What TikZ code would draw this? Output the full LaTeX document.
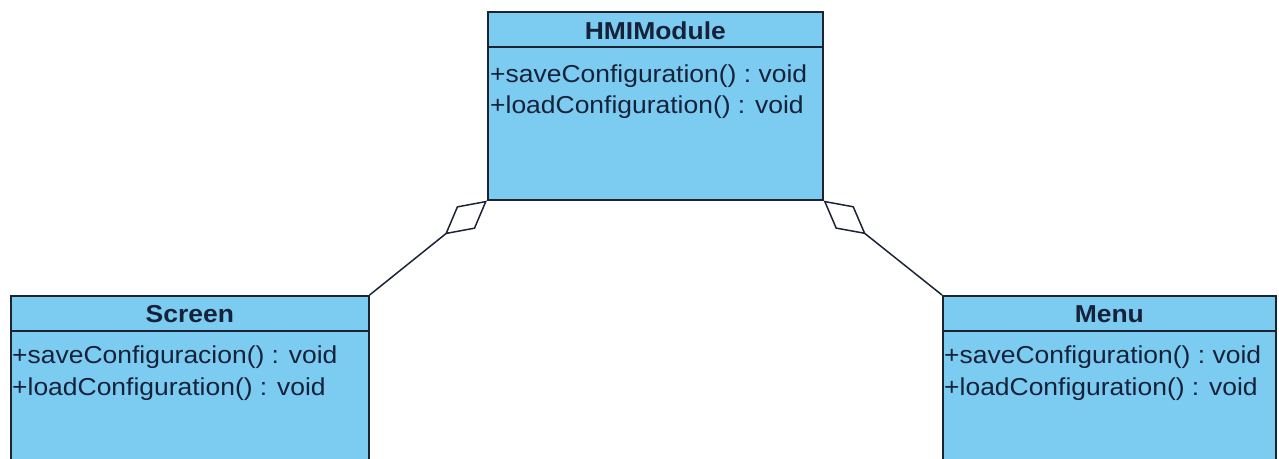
\documentclass[tikz,border=0pt]{standalone}
\usepackage{fontspec}
\usetikzlibrary{arrows.meta,calc}
\newfontfamily\umlfont[FakeStretch=1.08]{Liberation Sans}
\definecolor{classfill}{RGB}{124,204,242}
\definecolor{classline}{RGB}{28,36,52}
\definecolor{classtext}{RGB}{22,34,58}
\tikzset{
  classbox/.style={draw=classline, line width=1.6pt, fill=classfill, rectangle, inner sep=0pt, anchor=north west},
  divider/.style={draw=classline, line width=1.4pt},
  classtitle/.style={font=\umlfont\fontsize{24.5}{28}\selectfont\bfseries, text=classtext, anchor=base, inner sep=0pt},
  member/.style={font=\umlfont\fontsize{24.5}{28}\selectfont, text=classtext, anchor=base west, inner sep=0pt},
  aggregation/.style={draw=classline, line width=1.5pt, -{Diamond[open, length=54pt, width=29pt, line width=1.5pt]}}
}
\begin{document}
\begin{tikzpicture}[x=1pt, y=-1pt]
  \useasboundingbox (0,0) rectangle (1279,458);
  \clip (0,0) rectangle (1279,458);

  % HMIModule class
  \node[classbox, minimum width=335pt, minimum height=188pt] (hmi) at (487,11) {};
  \draw[divider] ($(hmi.north west)+(0,36)$) -- ($(hmi.north east)+(0,36)$);
  \node[classtitle] (hmititle) at ($(hmi.north)+(0,28)$) {HMIModule};
  \node[member] (hmisave) at ($(hmi.north west)+(3,71)$) {+saveConfiguration() :\ void};
  \node[member] (hmiload) at ($(hmi.north west)+(3,102)$) {+loadConfiguration() : void};

  % Screen class
  \node[classbox, minimum width=358pt, minimum height=200pt] (screen) at (10,295) {};
  \draw[divider] ($(screen.north west)+(0,36)$) -- ($(screen.north east)+(0,36)$);
  \node[classtitle] (screentitle) at ($(screen.north)+(0,27)$) {Screen};
  \node[member] (screensave) at ($(screen.north west)+(2,68)$) {+saveConfiguracion() : void};
  \node[member] (screenload) at ($(screen.north west)+(2,100)$) {+loadConfiguration() : void};

  % Menu class
  \node[classbox, minimum width=333pt, minimum height=200pt] (menu) at (942,295) {};
  \draw[divider] ($(menu.north west)+(0,36)$) -- ($(menu.north east)+(0,36)$);
  \node[classtitle] (menutitle) at ($(menu.north)+(0,27)$) {Menu};
  \node[member] (menusave) at ($(menu.north west)+(2,68)$) {+saveConfiguration() :\ void};
  \node[member] (menuload) at ($(menu.north west)+(2,100)$) {+loadConfiguration() : void};

  % aggregations
  \draw[aggregation] (screen.north east) -- (hmi.south west);
  \draw[aggregation] (menu.north west) -- (hmi.south east);
\end{tikzpicture}
\end{document}
